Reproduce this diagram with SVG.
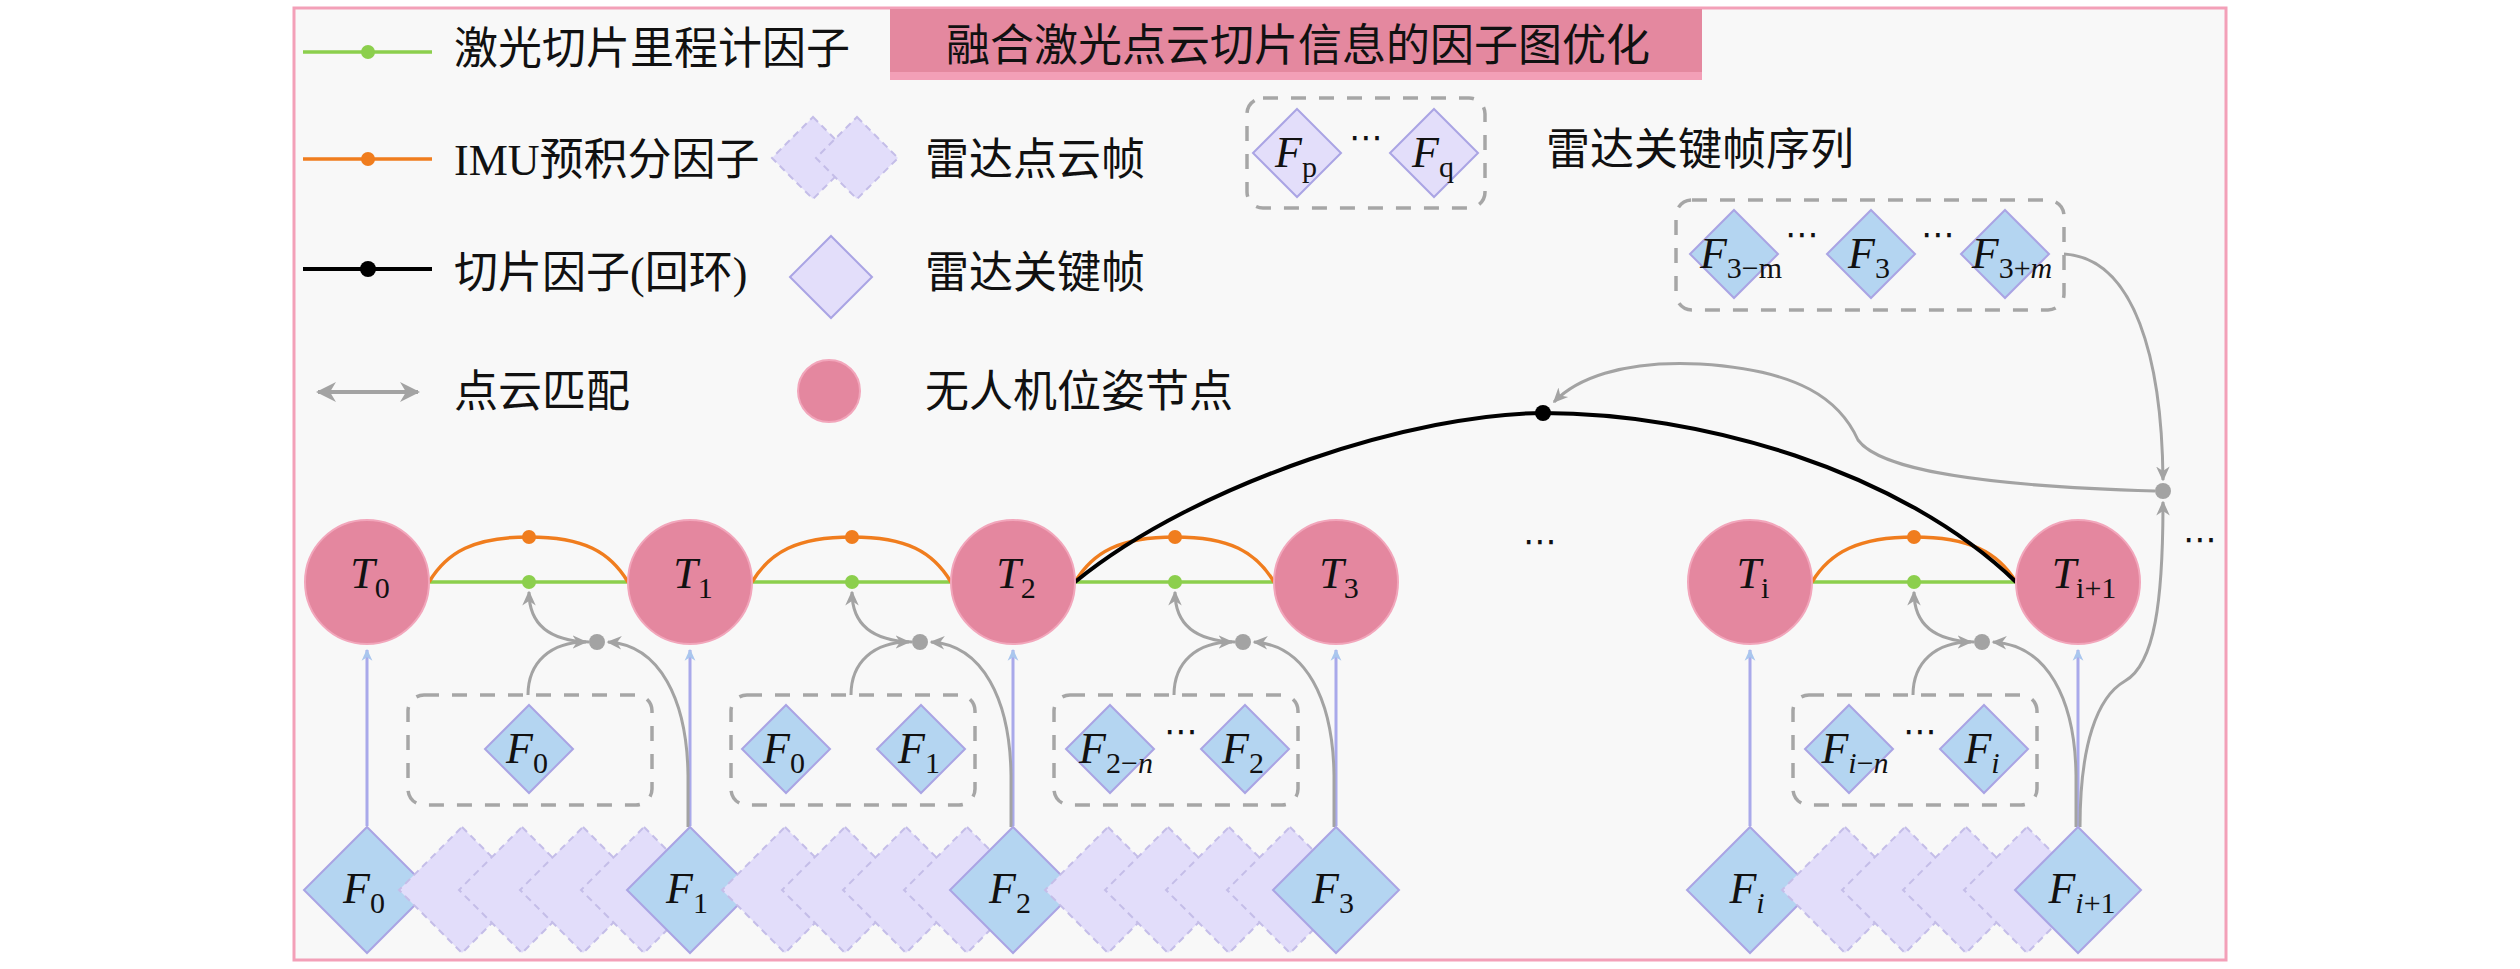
<svg xmlns="http://www.w3.org/2000/svg" width="2520" height="969" viewBox="0 0 2520 969">
<defs>
<style>
.cjk{font-family:"Liberation Serif","Noto Sans CJK SC",serif;font-size:44px;fill:#111}
.m{font-family:"Liberation Serif",serif;font-style:italic;font-size:44px;fill:#111;text-anchor:middle}
.s{font-style:normal;font-size:30px}
.si{font-style:italic;font-size:30px}
.dots{font-family:"DejaVu Sans",sans-serif;font-size:34px;fill:#111;text-anchor:middle}
.pose{fill:#e4879f;stroke:#f2a6bb;stroke-width:2}
.key{fill:#b4d5f1;stroke:#aaa4e4;stroke-width:2}
.keyp{fill:#e3defa;stroke:#aaa4e4;stroke-width:2}
.scan{fill:#e2ddfa;stroke:#c4bde8;stroke-width:2;stroke-dasharray:7 5}
.box{fill:none;stroke:#a6a6a6;stroke-width:3.5;stroke-dasharray:15 13}
.gr{fill:none;stroke:#a3a3a3;stroke-width:3;marker-end:url(#ag)}
.lav{fill:none;stroke:#a9a9ea;stroke-width:3;marker-end:url(#al)}
.odo{fill:none;stroke:#8ccf4d;stroke-width:3.5}
.imu{fill:none;stroke:#f07d1e;stroke-width:3.5}
.loop{fill:none;stroke:#000;stroke-width:4}
.gd{fill:#8ccf4d}
.od{fill:#f07d1e}
.bd{fill:#000}
.yd{fill:#a3a3a3}
</style>
<marker id="ag" viewBox="0 0 10 10" refX="9" refY="5" markerWidth="5" markerHeight="5" orient="auto-start-reverse"><path d="M0,0.5 L10,5 L0,9.5 L3,5 z" fill="#a3a3a3"/></marker>
<marker id="agL" viewBox="0 0 10 10" refX="9" refY="5" markerWidth="5" markerHeight="5" orient="auto-start-reverse"><path d="M0,0 L10,5 L0,10 L3,5 z" fill="#a3a3a3"/></marker>
<marker id="al" viewBox="0 0 10 10" refX="9" refY="5" markerWidth="4" markerHeight="4" orient="auto"><path d="M0,0.5 L10,5 L0,9.5 L3,5 z" fill="#a9c6ee"/></marker>
<path id="dB" d="M0,-63 L63,0 L0,63 L-63,0 Z"/>
<path id="dS" d="M0,-44 L44,0 L0,44 L-44,0 Z"/>
<path id="dL" d="M0,-41 L41,0 L0,41 L-41,0 Z"/>
</defs>

<rect width="2520" height="969" fill="#ffffff"/>
<rect x="294" y="8" width="1932" height="952" fill="#f8f8f8" stroke="#f3a0b8" stroke-width="3"/>

<g id="title">
<rect x="890" y="9" width="812" height="63" fill="#e4889f"/>
<rect x="890" y="72" width="812" height="8" fill="#f39fb7"/>
<text class="cjk" x="1298" y="61" text-anchor="middle">融合激光点云切片信息的因子图优化</text>
</g>

<g id="legend">
<path class="odo" d="M303 52 H432"/><circle class="gd" cx="368" cy="52" r="7"/>
<text class="cjk" x="454" y="64">激光切片里程计因子</text>
<path class="imu" d="M303 159 H432"/><circle class="od" cx="368" cy="159" r="7"/>
<text class="cjk" x="454" y="175">IMU预积分因子</text>
<path class="loop" d="M303 269 H432"/><circle class="bd" cx="368" cy="269" r="8"/>
<text class="cjk" x="454" y="288">切片因子(回环)</text>
<path d="M318 392 H418" fill="none" stroke="#a3a3a3" stroke-width="4" marker-start="url(#agL)" marker-end="url(#agL)"/>
<text class="cjk" x="454" y="407">点云匹配</text>
<use href="#dL" x="813" y="158" class="scan"/>
<use href="#dL" x="857" y="158" class="scan"/>
<text class="cjk" x="925" y="175">雷达点云帧</text>
<use href="#dL" x="831" y="277" class="keyp"/>
<text class="cjk" x="925" y="288">雷达关键帧</text>
<circle class="pose" cx="829" cy="391" r="31"/>
<text class="cjk" x="925" y="407">无人机位姿节点</text>
<rect class="box" x="1247" y="98" width="238" height="110" rx="16"/>
<use href="#dS" x="1297" y="153" class="keyp"/>
<text class="m" x="1296" y="167">F<tspan class="s" dy="10">p</tspan></text>
<text class="dots" x="1366" y="149">⋯</text>
<use href="#dS" x="1434" y="153" class="keyp"/>
<text class="m" x="1433" y="167">F<tspan class="s" dy="10">q</tspan></text>
<text class="cjk" x="1546" y="165">雷达关键帧序列</text>
</g>

<g id="connectors">
<!-- odometry / imu factors -->
<path class="odo" d="M429 582 H628"/>
<path class="odo" d="M752 582 H951"/>
<path class="odo" d="M1075 582 H1274"/>
<path class="odo" d="M1812 582 H2016"/>
<path class="imu" d="M429 582 C447 552,474 537,529 537 C584 537,610 552,628 582"/>
<path class="imu" d="M752 582 C770 552,797 537,852 537 C907 537,933 552,951 582"/>
<path class="imu" d="M1075 582 C1093 552,1120 537,1175 537 C1230 537,1256 552,1274 582"/>
<path class="imu" d="M1812 582 C1830 552,1859 537,1914 537 C1969 537,1998 552,2016 582"/>
<!-- loop -->
<path class="loop" d="M1075 582 C1200 480,1420 413,1543 413 C1700 413,1900 470,2016 582"/>
<!-- keyframe to pose -->
<path class="lav" d="M367 826 V650"/>
<path class="lav" d="M690 826 V650"/>
<path class="lav" d="M1013 826 V650"/>
<path class="lav" d="M1336 826 V650"/>
<path class="lav" d="M1750 826 V650"/>
<path class="lav" d="M2078 826 V650"/>
<!-- matching -->
<path class="gr" d="M589 642 C554 641,529 628,529 592"/>
<path class="gr" d="M528 695 C528 662,551 642,586 642"/>
<path class="gr" d="M688 827 L688 775 C687 700,660 645,608 642"/>
<path class="gr" d="M912 642 C877 641,852 628,852 592"/>
<path class="gr" d="M851 695 C851 662,874 642,909 642"/>
<path class="gr" d="M1011 827 L1011 775 C1010 700,983 645,931 642"/>
<path class="gr" d="M1235 642 C1200 641,1175 628,1175 592"/>
<path class="gr" d="M1174 695 C1174 662,1197 642,1232 642"/>
<path class="gr" d="M1334 827 L1334 775 C1333 700,1306 645,1254 642"/>
<path class="gr" d="M1974 642 C1939 641,1914 628,1914 592"/>
<path class="gr" d="M1913 695 C1913 662,1936 642,1971 642"/>
<path class="gr" d="M2076 827 L2076 775 C2075 700,2048 645,1993 642"/>
<path class="gr" d="M2064 254 C2135 258,2162 360,2163 480"/>
<path class="gr" d="M2080 827 C2080 745,2097 697,2125 681 C2155 664,2163 600,2163 502"/>
<path class="gr" d="M2155 491 C1980 486,1880 470,1858 440 C1840 400,1800 370,1700 364 C1620 360,1575 380,1554 402"/>
</g>

<g id="factors">
<circle class="gd" cx="529" cy="582" r="7"/><circle class="od" cx="529" cy="537" r="7"/><circle class="yd" cx="597" cy="642" r="8"/>
<circle class="gd" cx="852" cy="582" r="7"/><circle class="od" cx="852" cy="537" r="7"/><circle class="yd" cx="920" cy="642" r="8"/>
<circle class="gd" cx="1175" cy="582" r="7"/><circle class="od" cx="1175" cy="537" r="7"/><circle class="yd" cx="1243" cy="642" r="8"/>
<circle class="gd" cx="1914" cy="582" r="7"/><circle class="od" cx="1914" cy="537" r="7"/><circle class="yd" cx="1982" cy="642" r="8"/>
<circle class="bd" cx="1543" cy="413" r="8"/>
<circle class="yd" cx="2163" cy="491" r="8"/>
</g>

<g id="T0"><circle class="pose" cx="367" cy="582" r="62"/><text class="m" x="370" y="588">T<tspan class="s" dy="10">0</tspan></text></g>
<g id="T1"><circle class="pose" cx="690" cy="582" r="62"/><text class="m" x="693" y="588">T<tspan class="s" dy="10">1</tspan></text></g>
<g id="T2"><circle class="pose" cx="1013" cy="582" r="62"/><text class="m" x="1016" y="588">T<tspan class="s" dy="10">2</tspan></text></g>
<g id="T3"><circle class="pose" cx="1336" cy="582" r="62"/><text class="m" x="1339" y="588">T<tspan class="s" dy="10">3</tspan></text></g>
<g id="Ti"><circle class="pose" cx="1750" cy="582" r="62"/><text class="m" x="1753" y="588">T<tspan class="s" dy="10">i</tspan></text></g>
<g id="Ti1"><circle class="pose" cx="2078" cy="582" r="62"/><text class="m" x="2084" y="588">T<tspan class="s" dy="10">i+1</tspan></text></g>

<text class="dots" x="1540" y="553">⋯</text>
<text class="dots" x="2200" y="551">⋯</text>

<g id="box0"><rect class="box" x="408" y="695" width="244" height="110" rx="16"/>
<use href="#dS" x="529" y="749" class="key"/><text class="m" x="527" y="763">F<tspan class="s" dy="10">0</tspan></text></g>
<g id="box1"><rect class="box" x="731" y="695" width="244" height="110" rx="16"/>
<use href="#dS" x="786" y="749" class="key"/><text class="m" x="784" y="763">F<tspan class="s" dy="10">0</tspan></text>
<use href="#dS" x="921" y="749" class="key"/><text class="m" x="919" y="763">F<tspan class="s" dy="10">1</tspan></text></g>
<g id="box2"><rect class="box" x="1054" y="695" width="244" height="110" rx="16"/>
<use href="#dS" x="1110" y="749" class="key"/><text class="m" x="1116" y="763">F<tspan class="s" dy="10">2−<tspan class="si">n</tspan></tspan></text>
<text class="dots" x="1181" y="743">⋯</text>
<use href="#dS" x="1245" y="749" class="key"/><text class="m" x="1243" y="763">F<tspan class="s" dy="10">2</tspan></text></g>
<g id="boxi"><rect class="box" x="1793" y="695" width="244" height="110" rx="16"/>
<use href="#dS" x="1849" y="749" class="key"/><text class="m" x="1855" y="763">F<tspan class="si" dy="10">i</tspan><tspan class="s">−</tspan><tspan class="si">n</tspan></text>
<text class="dots" x="1920" y="743">⋯</text>
<use href="#dS" x="1984" y="749" class="key"/><text class="m" x="1982" y="763">F<tspan class="si" dy="10">i</tspan></text></g>
<g id="boxm"><rect class="box" x="1676" y="200" width="388" height="110" rx="16"/>
<use href="#dS" x="1734" y="254" class="key"/><text class="m" x="1741" y="268">F<tspan class="s" dy="10">3−m</tspan></text>
<text class="dots" x="1802" y="246">⋯</text>
<use href="#dS" x="1871" y="254" class="key"/><text class="m" x="1869" y="268">F<tspan class="s" dy="10">3</tspan></text>
<text class="dots" x="1938" y="246">⋯</text>
<use href="#dS" x="2005" y="254" class="key"/><text class="m" x="2012" y="268">F<tspan class="s" dy="10">3+</tspan><tspan class="si">m</tspan></text></g>

<g id="scans">
<g id="F0"><use href="#dB" x="367" y="890" class="key"/><text class="m" x="364" y="903">F<tspan class="s" dy="10">0</tspan></text></g>
<use href="#dB" x="462" y="890" class="scan"/><use href="#dB" x="522" y="890" class="scan"/><use href="#dB" x="583" y="890" class="scan"/><use href="#dB" x="644" y="890" class="scan"/>
<g id="F1"><use href="#dB" x="690" y="890" class="key"/><text class="m" x="687" y="903">F<tspan class="s" dy="10">1</tspan></text></g>
<use href="#dB" x="785" y="890" class="scan"/><use href="#dB" x="845" y="890" class="scan"/><use href="#dB" x="906" y="890" class="scan"/><use href="#dB" x="967" y="890" class="scan"/>
<g id="F2"><use href="#dB" x="1013" y="890" class="key"/><text class="m" x="1010" y="903">F<tspan class="s" dy="10">2</tspan></text></g>
<use href="#dB" x="1108" y="890" class="scan"/><use href="#dB" x="1168" y="890" class="scan"/><use href="#dB" x="1229" y="890" class="scan"/><use href="#dB" x="1290" y="890" class="scan"/>
<g id="F3"><use href="#dB" x="1336" y="890" class="key"/><text class="m" x="1333" y="903">F<tspan class="s" dy="10">3</tspan></text></g>
<g id="Fi"><use href="#dB" x="1750" y="890" class="key"/><text class="m" x="1747" y="903">F<tspan class="si" dy="10">i</tspan></text></g>
<use href="#dB" x="1845" y="890" class="scan"/><use href="#dB" x="1905" y="890" class="scan"/><use href="#dB" x="1966" y="890" class="scan"/><use href="#dB" x="2027" y="890" class="scan"/>
<g id="Fi1"><use href="#dB" x="2078" y="890" class="key"/><text class="m" x="2082" y="903">F<tspan class="si" dy="10">i</tspan><tspan class="s">+1</tspan></text></g>
</g>
</svg>
